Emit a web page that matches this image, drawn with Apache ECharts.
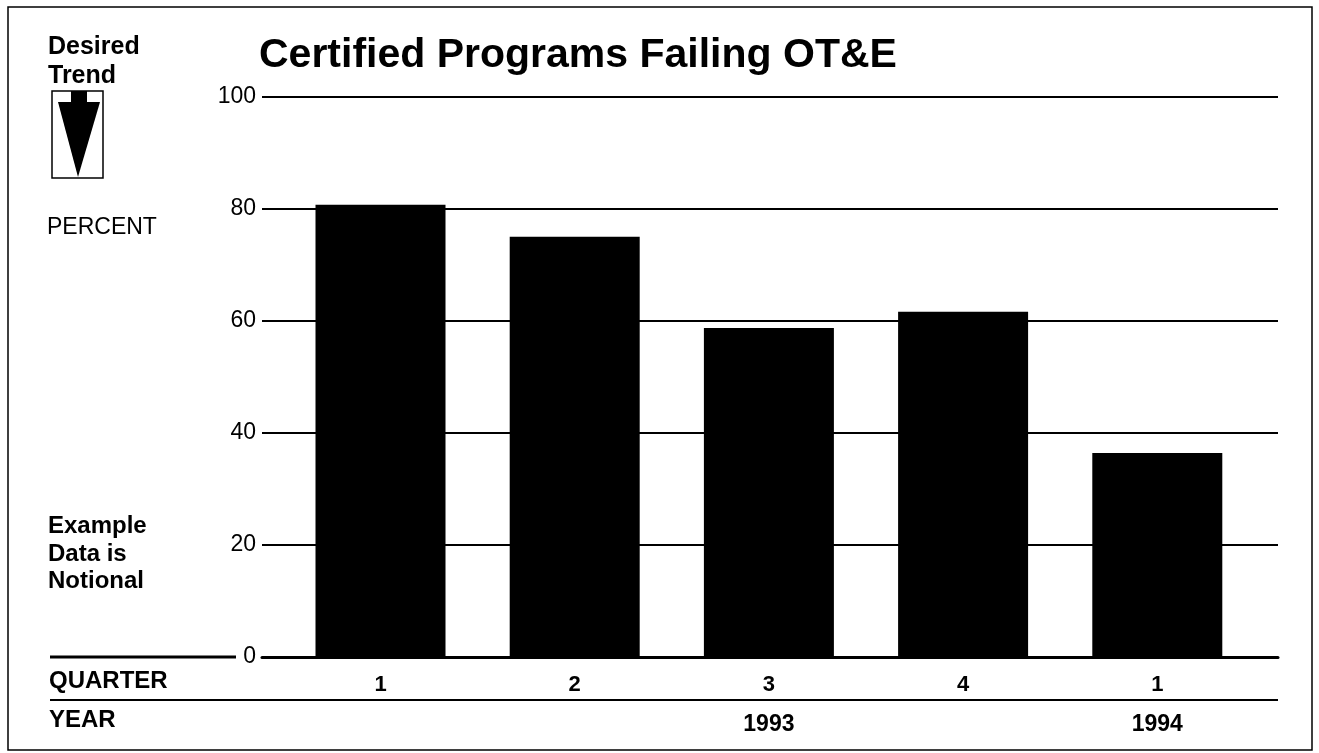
<!DOCTYPE html>
<html>
<head>
<meta charset="utf-8">
<script src="https://cdn.jsdelivr.net/npm/echarts@6/dist/echarts.min.js"></script>
<style>
html,body{margin:0;padding:0;background:#fff;}
#chart{width:1319px;height:753px;}
</style>
</head>
<body>
<div id="chart"></div>
<script>
const quarters = ['1', '2', '3', '4', '1'];
const years = ['', '', '1993', '', '1994'];
const percentFailing = [80.7, 75, 58.7, 61.6, 36.4];
const yMin = 0, yMax = 100, yStep = 20;

const FONT = '"Liberation Sans", Arial, Helvetica, sans-serif';
const chart = echarts.init(document.getElementById('chart'), null, {renderer: 'canvas'});

const option = {
  backgroundColor: '#fff',
  animation: false,
  grid: [
    {left: 262, right: 41, top: 96.5, bottom: 96},
    {left: 283.4, right: 64.6, top: 96.5, bottom: 96}
  ],
  xAxis: [
    {gridIndex: 0, type: 'category', data: quarters, show: true,
     axisLine: {show: true, lineStyle: {color: '#000', width: 3}},
     axisTick: {show: false}, axisLabel: {show: false}, splitLine: {show: false}},
    {gridIndex: 1, type: 'category', data: quarters, position: 'bottom',
     axisLine: {show: false}, axisTick: {show: false},
     axisLabel: {color: '#000', fontSize: 22, fontWeight: 'bold', fontFamily: FONT, margin: 17, interval: 0}},
    {gridIndex: 1, type: 'category', data: years, position: 'bottom', offset: 40,
     axisLine: {show: false}, axisTick: {show: false},
     axisLabel: {color: '#000', fontSize: 23, fontWeight: 'bold', fontFamily: FONT, margin: 16, interval: 0}}
  ],
  yAxis: [
    {gridIndex: 0, type: 'value', min: yMin, max: yMax, interval: yStep,
     axisLine: {show: false}, axisTick: {show: false},
     axisLabel: {color: '#000', fontSize: 23, fontFamily: FONT, margin: 6},
     splitLine: {show: true, lineStyle: {color: '#000', width: 2}}},
    {gridIndex: 1, type: 'value', min: yMin, max: yMax, interval: yStep, show: false,
     splitLine: {show: false}}
  ],
  series: [
    {type: 'bar', xAxisIndex: 1, yAxisIndex: 1, data: percentFailing,
     barWidth: 130, itemStyle: {color: '#000'}, z: 1}
  ],
  graphic: [
    {type: 'rect', shape: {x: 8, y: 7, width: 1304, height: 743},
     style: {fill: 'none', stroke: '#000', lineWidth: 1.5}, z: 100},
    {type: 'text', left: 48, top: 33, style: {text: 'Desired\nTrend', font: 'bold 25px ' + FONT, fill: '#000', lineHeight: 29}},
    {type: 'rect', shape: {x: 52, y: 91, width: 51, height: 87},
     style: {fill: '#fff', stroke: '#000', lineWidth: 1.5}},
    {type: 'rect', shape: {x: 71, y: 91, width: 16, height: 13}, style: {fill: '#000'}},
    {type: 'polygon', shape: {points: [[58, 102], [100, 102], [78, 177]]}, style: {fill: '#000'}},
    {type: 'text', left: 259, top: 35, style: {text: 'Certified Programs Failing OT&E', font: 'bold 41px ' + FONT, fill: '#000'}},
    {type: 'text', left: 47, top: 216, style: {text: 'PERCENT', font: '23px ' + FONT, fill: '#000'}},
    {type: 'text', left: 48, top: 513, style: {text: 'Example\nData is\nNotional', font: 'bold 24px ' + FONT, fill: '#000', lineHeight: 27.5}},
    {type: 'line', shape: {x1: 50, y1: 657, x2: 236, y2: 657}, style: {stroke: '#000', lineWidth: 3}},
    {type: 'text', left: 49, top: 669, style: {text: 'QUARTER', font: 'bold 24px ' + FONT, fill: '#000'}},
    {type: 'line', shape: {x1: 50, y1: 700, x2: 1278, y2: 700}, style: {stroke: '#000', lineWidth: 2}},
    {type: 'text', left: 49, top: 708, style: {text: 'YEAR', font: 'bold 24px ' + FONT, fill: '#000'}}
  ]
};
chart.setOption(option);
</script>
</body>
</html>
